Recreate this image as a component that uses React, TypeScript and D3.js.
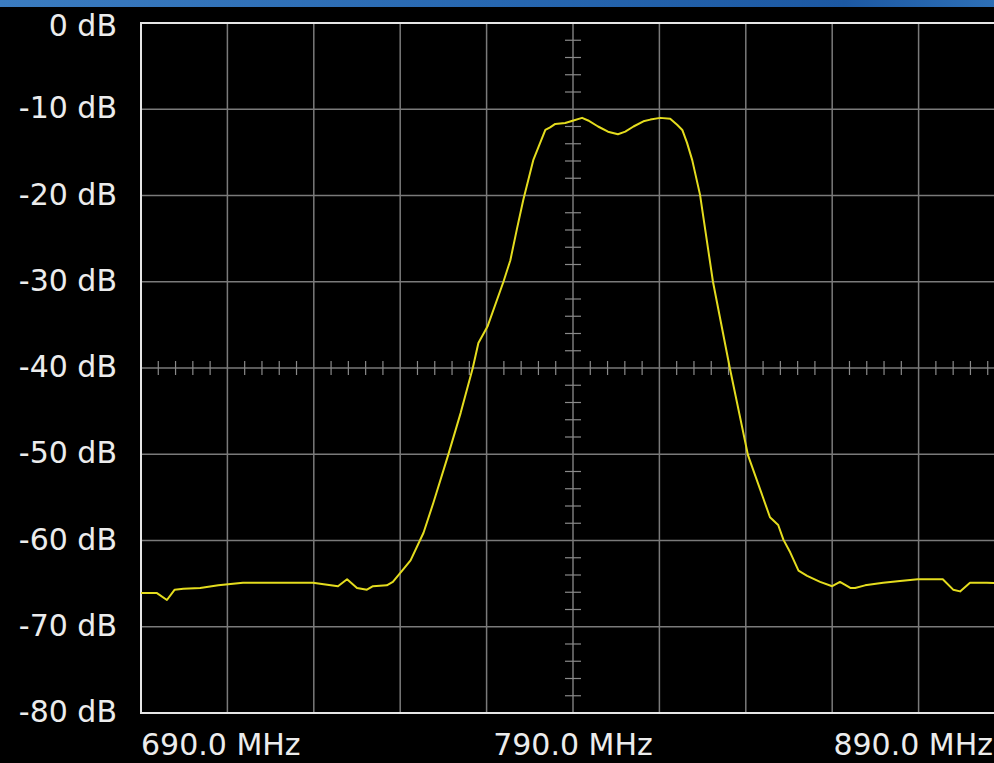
import React from "react";
import * as d3 from "d3";

const freqTicks = [690, 790, 890];
const freqTickLabels = ["690.0 MHz", "790.0 MHz", "890.0 MHz"];
const dbTicks = [0, -10, -20, -30, -40, -50, -60, -70, -80];
const dbTickLabels = ["0 dB", "-10 dB", "-20 dB", "-30 dB", "-40 dB", "-50 dB", "-60 dB", "-70 dB", "-80 dB"];

const traceFreq = [
  690.0, 693.7, 696.0, 697.8, 699.8, 703.7, 707.9, 713.6, 729.8, 735.6, 737.7, 740.0, 742.3, 743.7,
  746.9, 748.3, 750.6, 752.4, 755.4, 757.7, 761.1, 764.0, 766.8, 768.1, 770.2, 773.9, 775.5, 777.1,
  778.5, 780.8, 782.0, 783.6, 784.7, 785.9, 788.2, 790.1, 792.1, 793.5, 795.8, 798.1, 800.4, 802.1,
  804.0, 806.3, 807.9, 810.2, 812.5, 814.1, 815.3, 816.4, 817.6, 819.4, 822.4, 826.3, 830.5, 835.6,
  837.5, 838.7, 840.3, 842.2, 844.2, 847.2, 850.0, 851.8, 854.2, 855.3, 857.6, 861.8, 865.7, 869.8,
  875.6, 878.0, 879.6, 881.9, 885.8, 890.0,
];
const traceDb = [
  -66.1, -66.1, -66.9, -65.7, -65.6, -65.5, -65.2, -64.9, -64.9, -65.3, -64.5, -65.5, -65.7, -65.3,
  -65.2, -64.8, -63.4, -62.3, -59.1, -55.6, -50.1, -45.2, -40.0, -37.1, -35.2, -30.0, -27.5, -23.7,
  -20.5, -15.9, -14.4, -12.4, -12.1, -11.7, -11.6, -11.3, -11.0, -11.3, -12.0, -12.6, -12.9, -12.6,
  -12.0, -11.4, -11.2, -11.0, -11.1, -11.8, -12.4, -13.9, -15.9, -19.9, -30.0, -40.0, -50.1, -57.3,
  -58.2, -59.9, -61.4, -63.5, -64.1, -64.8, -65.3, -64.8, -65.5, -65.5, -65.2, -64.9, -64.7, -64.5,
  -64.5, -65.7, -65.9, -64.9, -64.9, -65.0,
];

const W = 994;
const H = 763;
const left = 141;
const right = 1005;
const top = 23;
const bottom = 713;

export default function App() {
  const x = d3.scaleLinear().domain([690, 890]).range([left, right]);
  const y = d3.scaleLinear().domain([0, -80]).range([top, bottom]);
  const pts = traceFreq.map((f, i) => [f, traceDb[i]] as [number, number]);
  const line = d3
    .line<[number, number]>()
    .x((d) => x(d[0]))
    .y((d) => y(d[1]))
    .curve(d3.curveLinear);

  const vGrid = d3.range(690, 890.001, 20);
  const hGrid = d3.range(0, -80.001, -10);
  const xMinor = d3.range(690, 890.001, 4).filter((f) => Math.abs(((f - 690) % 20)) > 0.01);
  const yMinor = d3.range(0, -80.001, -2).filter((v) => Math.abs(v % 10) > 0.01);
  const font = "'DejaVu Sans', Verdana, sans-serif";

  return (
    <div style={{ position: "absolute", left: 0, top: 0, width: W, height: H, overflow: "hidden" }}>
      <svg width={W} height={H} style={{ display: "block", background: "#000" }}>
        <defs>
          <linearGradient id="bar" x1="0" x2="1" y1="0" y2="0">
            <stop offset="0" stopColor="#3b7cc0" />
            <stop offset="0.5" stopColor="#2767b0" />
            <stop offset="0.85" stopColor="#1c58a2" />
            <stop offset="1" stopColor="#2d6fb6" />
          </linearGradient>
          <clipPath id="plotClip">
            <rect x={left} y={top} width={right - left} height={bottom - top} />
          </clipPath>
        </defs>
        <rect x={0} y={0} width={W} height={H} fill="#000" />
        <rect x={0} y={0} width={W} height={7} fill="url(#bar)" />
        <g stroke="#7a7a7a" strokeWidth={1.5}>
          {vGrid.map((f) => (
            <line key={"v" + f} x1={x(f)} x2={x(f)} y1={top} y2={bottom} />
          ))}
          {hGrid.map((v) => (
            <line key={"h" + v} x1={left} x2={right} y1={y(v)} y2={y(v)} />
          ))}
        </g>
        <g stroke="#8a8a8a" strokeWidth={1.2}>
          {xMinor.map((f) => (
            <line key={"xm" + f} x1={x(f)} x2={x(f)} y1={y(-40) - 7} y2={y(-40) + 7} />
          ))}
          {yMinor.map((v) => (
            <line key={"ym" + v} x1={x(790) - 8} x2={x(790) + 8} y1={y(v)} y2={y(v)} />
          ))}
        </g>
        <rect
          x={left}
          y={top}
          width={right - left}
          height={bottom - top}
          fill="none"
          stroke="#e6e6e6"
          strokeWidth={2}
        />
        <path
          d={line(pts) || ""}
          fill="none"
          stroke="#e4dc1e"
          strokeWidth={2}
          strokeLinejoin="round"
          clipPath="url(#plotClip)"
        />
        <g fontFamily={font} fontSize={30} fill="#ececec">
          {dbTicks.map((v, i) => (
            <text key={"yl" + v} x={117} y={Math.max(y(v) + 9, 35.5)} textAnchor="end">
              {dbTickLabels[i]}
            </text>
          ))}
          {freqTicks.map((f, i) => (
            <text
              key={"xl" + f}
              x={i === 0 ? x(f) : i === freqTicks.length - 1 ? 993 : x(f)}
              y={755}
              textAnchor={i === 0 ? "start" : i === freqTicks.length - 1 ? "end" : "middle"}
            >
              {freqTickLabels[i]}
            </text>
          ))}
        </g>
      </svg>
    </div>
  );
}
